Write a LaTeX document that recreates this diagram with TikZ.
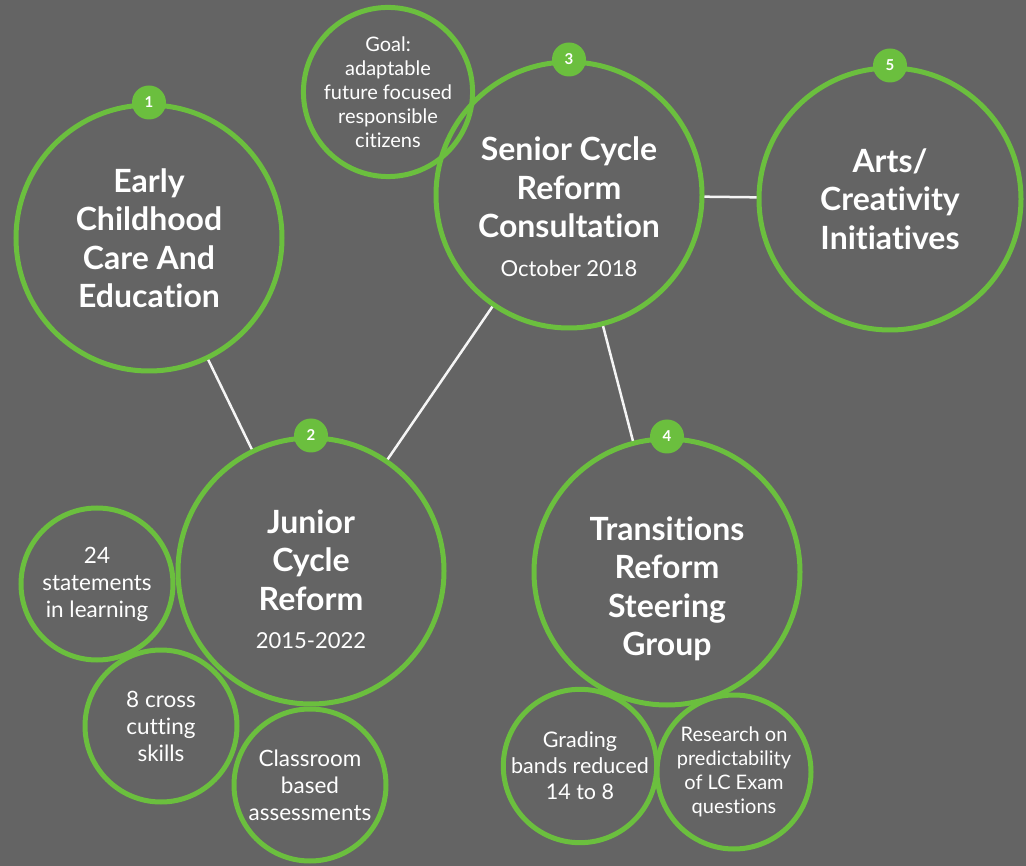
\documentclass[tikz,border=0pt]{standalone}
\usepackage{fontspec}
\setmainfont[Ligatures=NoCommon]{Lato}
\usetikzlibrary{positioning}
\definecolor{bggray}{HTML}{646464}
\definecolor{leaf}{HTML}{6BBF3E}
\tikzset{ring/.style={circle,draw=leaf,line width=5pt,minimum size=#1,
    inner sep=0pt,align=center,text=white},
    big/.style={ring=#1,font=\fontsize{32}{38.5}\selectfont\bfseries},
    small/.style={ring=#1,font=\fontsize{22.5}{27}\selectfont},
    tiny/.style={ring=#1,font=\fontsize{20}{24}\selectfont}}
\newcommand\datefont{\mdseries\fontsize{22}{26}\selectfont}
\newcommand\drop[1]{\rule{0pt}{#1}}

\begin{document}
\begin{tikzpicture}[x=1pt,y=-1pt,
    badge/.style={circle,fill=leaf,minimum size=34pt,inner sep=0pt,
        text=white,font=\fontsize{15}{15}\selectfont\bfseries},
    link/.style={draw=white!92!gray,line width=2.5pt}]
        \fill[bggray] (0,0) rectangle (1026,866);
        \useasboundingbox (0,0) rectangle (1026,866);

        \node[big=266] (early)  at (149,238) {Early\\Childhood\\Care And\\Education};
        \node[big=266] (junior) at (311,571) {\drop{40pt}Junior\\Cycle\\Reform\\{\datefont 2015-2022}};
        \node[big=266] (senior) at (569,195) {\drop{47pt}Senior Cycle\\Reform\\Consultation\\{\datefont October 2018}};
        \node[big=266] (trans)  at (667,572) {\drop{57pt}Transitions\\Reform\\Steering\\Group};
        \node[big=262] (arts)   at (890,199) {Arts/\\Creativity\\Initiatives};

        \node[tiny=150]  (goal)     at (388,92)  {Goal:\\adaptable\\future focused\\responsible\\citizens};
        \node[small=152] (stmts)    at (97,584)  {24\\statements\\in learning};
        \node[small=152] (skills)   at (161,726) {8 cross\\cutting\\skills};
        \node[small=152] (assess)   at (310,785) {Classroom\\based\\assessments};
        \node[small=152,font=\fontsize{21.5}{26}\selectfont] (grading) at (580,766) {Grading\\bands reduced\\14 to 8};
        \node[tiny=154]  (research) at (734,772) {Research on\\predictability\\of LC Exam\\questions};

        \path[link]
        (early)  edge (junior)
        (senior) edge (junior)
        (senior) edge (trans)
        (senior) edge (arts);

        \node[badge] (b1) at (early.north)  {1};
        \node[badge] (b2) at (junior.north) {2};
        \node[badge] (b3) at (senior.north) {3};
        \node[badge] (b4) at (trans.north)  {4};
        \node[badge] (b5) at (arts.north)   {5};
\end{tikzpicture}
\end{document}
